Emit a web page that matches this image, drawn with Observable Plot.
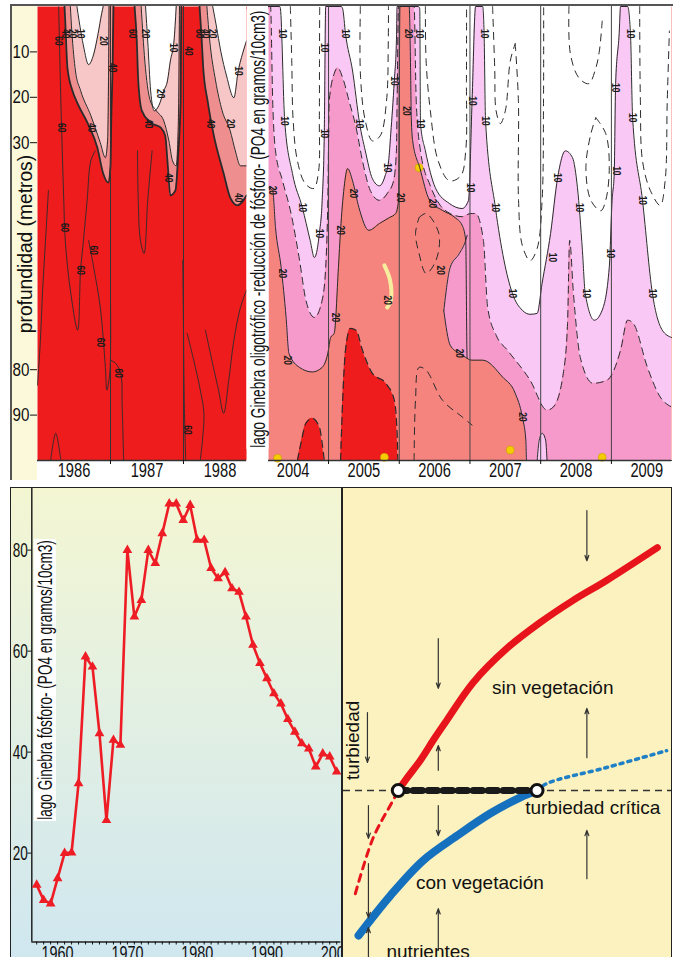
<!DOCTYPE html>
<html>
<head>
<meta charset="utf-8">
<script src="https://cdn.jsdelivr.net/npm/d3@7"></script>
<script src="https://cdn.jsdelivr.net/npm/@observablehq/plot@0.6"></script>
<style>
html,body{margin:0;padding:0;background:#fff;}
#root{position:relative;width:677px;height:957px;overflow:hidden;font-family:"Liberation Sans",Arial,sans-serif;}
.abs{position:absolute;}
.panel{position:absolute;overflow:hidden;}
.panel svg{display:block;overflow:visible;}
</style>
</head>
<body>
<div id="root">
  <div class="abs" style="left:11px;top:6px;width:26px;height:474px;background:#FCF8DA"></div>
  <div id="tl" class="panel" style="left:0;top:0;width:248px;height:482px"></div>
  <div id="tr" class="panel" style="left:262px;top:0;width:415px;height:482px"></div>
  <div class="abs" style="left:10px;top:4px;width:663px;height:2px;background:#555"></div>
  <div class="abs" style="left:10px;top:4px;width:1.5px;height:476px;background:#555"></div>
  <div id="bl" class="panel" style="left:10px;top:487px;width:330px;height:470px;border:1.5px solid #222;border-bottom:none;background:linear-gradient(#F4F6D2,#E3F0E2 45%,#D0E7F0)"></div>
  <div id="br" class="panel" style="left:342px;top:487px;width:328px;height:470px;border:1.5px solid #222;border-bottom:none;background:#FCF2BF"></div>
</div>
<script>
// ===================== DATA =====================
// --- Top panel, 1986-1988 (decimal year, depth m) ---
const depthTicks = [10, 20, 30, 80, 90];
const yearLabelsLeft = [1986.5, 1987.5, 1988.5];
const yearBoundsLeft = [1987, 1988];
const p1c40 = [[1986.37,0],[1986.38,3.2],[1986.41,13.5],[1986.48,18.6],[1986.55,21.4],[1986.69,25.8],[1986.82,31.1],[1986.90,36.8],[1986.97,38.8],[1987.00,35.1],[1987.01,25.2],[1987.03,12.0],[1987.04,0]];
const p1c20 = [[1986.45,0],[1986.47,5.4],[1986.52,14.2],[1986.59,18.5],[1986.73,24.0],[1986.86,30.0],[1986.93,33.3],[1986.96,29.6],[1986.97,20.8],[1986.98,0]];
const p1c10 = [[1986.54,0],[1986.57,3.2],[1986.63,8.7],[1986.70,12.8],[1986.77,10.5],[1986.83,6.0],[1986.88,1.5],[1986.90,0]];
const p2c40 = [[1987.33,0],[1987.36,7.6],[1987.38,16.4],[1987.43,23.0],[1987.55,25.6],[1987.69,26.7],[1987.75,28.5],[1987.78,34.0],[1987.82,41.6],[1987.89,40.5],[1987.93,31.8],[1987.96,20.8],[1987.97,0]];
const p2c20 = [[1987.42,0],[1987.47,12.0],[1987.54,20.5],[1987.63,23.0],[1987.73,25.2],[1987.80,29.6],[1987.85,34.0],[1987.90,35.1],[1987.93,25.2],[1987.945,0]];
const p2c10 = [[1987.48,0],[1987.51,7.6],[1987.55,18.6],[1987.60,23.0],[1987.66,21.9],[1987.73,18.6],[1987.78,16.4],[1987.82,12.0],[1987.87,7.6],[1987.90,0]];
const p3c40 = [[1988.22,0],[1988.25,7.6],[1988.27,13.5],[1988.33,20.8],[1988.41,28.0],[1988.55,36.8],[1988.64,42.1],[1988.74,43.8],[1988.82,42.7],[1988.863,41.6]];
const p3c20 = [[1988.32,0],[1988.36,7.6],[1988.44,16.4],[1988.53,23.0],[1988.64,27.4],[1988.71,31.8],[1988.78,35.1],[1988.863,35.1]];
const p3c10 = [[1988.40,0],[1988.45,4.3],[1988.51,9.8],[1988.59,15.3],[1988.69,20.1],[1988.75,14.2],[1988.82,9.8],[1988.863,7.6]];
const c60Left = [
  [[1986.29,0.1],[1986.32,20.8],[1986.36,42.7],[1986.38,51.5],[1986.45,62.5],[1986.55,71.3],[1986.59,58.1],[1986.63,51.5],[1986.68,42.7],[1986.73,34.0],[1986.79,31.8]],
  [[1986.70,51.5],[1986.77,57.5],[1986.86,66.3],[1986.93,79.5],[1986.95,84.5],[1986.99,80.8],[1987.0,64.7]],
  [[1987.0,77.9],[1987.07,78.6],[1987.14,80.8],[1987.16,88.2],[1987.18,99.9]],
  [[1986.0,83.4],[1986.04,73.5],[1986.07,62.5],[1986.11,51.5],[1986.15,40.5]],
  [[1986.18,100],[1986.25,94],[1986.32,100]],
  [[1987.57,31.8],[1987.51,42.7],[1987.46,54.4],[1987.41,51.5],[1987.38,42.7],[1987.37,31.8]],
  [[1988.05,72.0],[1988.14,77.9],[1988.23,84.5],[1988.28,89.6],[1988.26,95.5],[1988.23,99.9]],
  [[1987.99,55.9],[1988.0,71.3],[1988.01,86.7],[1988.03,99.9]],
  [[1988.30,71.3],[1988.41,79.5],[1988.48,84.5],[1988.55,89.6],[1988.62,82.3],[1988.69,73.5],[1988.78,66.3],[1988.863,62.5]]
];
const labelsLeft = [[1986.29,7.6,"60"],[1986.32,26.7,"60"],[1986.36,48.7,"60"],[1986.59,58.1,"60"],[1986.77,53.7,"60"],[1986.86,74.0,"60"],[1987.11,80.8,"60"],[1987.30,6.0,"60"],[1988.05,93.3,"60"],[1988.21,6.0,"60"],
  [1986.38,6.0,"40"],[1987.03,13.5,"40"],[1986.73,26.7,"40"],[1987.51,25.8,"40"],[1988.07,9.8,"40"],[1988.30,6.0,"40"],[1988.37,25.8,"40"],[1988.75,42.1,"40"],[1987.79,37.7,"40"],
  [1986.48,6.0,"20"],[1986.90,7.6,"20"],[1987.48,6.0,"20"],[1987.68,19.2,"20"],[1988.40,6.0,"20"],[1988.64,25.8,"20"],
  [1986.59,6.0,"10"],[1987.86,9.1,"10"],[1988.75,14.2,"10"]];

// --- Top panel, 2004-2009 ---
const yearLabelsRight = [2004.5, 2005.5, 2006.5, 2007.5, 2008.5, 2009.5];
const yearBoundsRight = [2005, 2006, 2007, 2008, 2009];
const d10R = [[2004.15,0],[2004.31,0],[2004.32,0.5],[2004.38,25.2],[2004.49,36.8],[2004.63,44.3],[2004.74,51.5],[2004.80,55.3],[2004.87,50.0],[2004.91,42.7],[2004.94,28.0],[2004.96,0],[2005.18,0],[2005.20,0.5],[2005.24,6.0],[2005.34,14.2],[2005.44,25.8],[2005.52,31.8],[2005.62,37.9],[2005.72,39.5],[2005.80,37.3],[2005.85,34.0],[2005.88,28.0],[2005.93,16.4],[2005.96,7.6],[2005.97,0],[2006.27,0],[2006.29,0.5],[2006.30,25.8],[2006.37,31.8],[2006.51,39.9],[2006.71,43.4],[2006.89,44.5],[2006.98,42.7],[2007.03,20.8],[2007.08,0],[2007.18,0],[2007.20,6.0],[2007.22,25.2],[2007.36,44.3],[2007.60,63.2],[2007.74,66.9],[2007.85,67.8],[2007.95,67.6],[2008.02,61.0],[2008.14,50.0],[2008.24,37.7],[2008.35,31.8],[2008.45,33.3],[2008.52,39.9],[2008.59,53.7],[2008.63,63.2],[2008.76,69.1],[2008.87,66.9],[2008.97,57.5],[2009.01,42.7],[2009.04,36.8],[2009.06,17.0],[2009.11,6.0],[2009.13,0],[2009.23,0],[2009.27,6.0],[2009.30,24.5],[2009.44,42.7],[2009.58,63.2],[2009.72,71.3],[2009.85,72.9]];
const d15R = [[2004.15,0],[2004.18,0],[2004.21,20.8],[2004.25,31.8],[2004.35,38.4],[2004.47,45.6],[2004.59,55.9],[2004.68,64.7],[2004.80,68.5],[2004.91,64.7],[2004.96,57.5],[2004.99,42.7],[2005.01,20.8],[2005.08,14.8],[2005.13,13.5],[2005.20,15.7],[2005.29,20.8],[2005.39,26.7],[2005.48,34.0],[2005.59,40.5],[2005.72,42.7],[2005.83,41.2],[2005.92,38.4],[2005.96,31.8],[2005.97,20.8],[2005.99,0],[2006.21,0],[2006.24,20.8],[2006.30,31.8],[2006.44,39.5],[2006.58,43.8],[2006.72,45.6],[2006.89,46.3],[2007.01,45.6],[2007.08,45.6],[2007.19,51.5],[2007.25,66.3],[2007.37,72.4],[2007.53,75.7],[2007.85,82.3],[2008.09,88.9],[2008.18,88.2],[2008.32,80.8],[2008.38,69.8],[2008.41,51.5],[2008.46,62.5],[2008.56,77.3],[2008.74,83.0],[2008.94,82.3],[2009.13,75.7],[2009.23,69.1],[2009.31,69.8],[2009.51,79.5],[2009.69,86.0],[2009.85,88.2]];
const d20R = [[2004.15,39.9],[2004.21,40.5],[2004.25,48.7],[2004.33,57.5],[2004.40,68.5],[2004.44,76.4],[2004.59,79.5],[2004.77,80.5],[2004.91,79.5],[2004.99,76.4],[2005.03,72.9],[2005.08,72.0],[2005.14,57.5],[2005.17,49.3],[2005.22,39.9],[2005.27,35.7],[2005.34,38.4],[2005.43,44.3],[2005.57,49.3],[2005.72,47.8],[2005.86,46.5],[2005.95,45.6],[2005.99,42.7],[2006.01,0],[2006.14,0],[2006.16,13.5],[2006.17,24.5],[2006.19,29.6],[2006.29,35.5],[2006.43,42.7],[2006.61,44.9],[2006.79,46.5],[2006.89,48.2],[2006.94,51.5],[2006.96,77.5],[2007.03,77.9],[2007.18,77.9],[2007.46,81.6],[2007.64,85.2],[2007.74,90.4],[2007.79,95.5],[2007.80,100],[2009.85,100]];
const pocketR = [[2006.63,67.0,67.0],[2006.72,57.5,74.6],[2006.85,54.4,76.4],[2006.94,51.5,77.3],[2006.96,50.4,77.5]];
const red2004 = [[2004.56,100],[2004.61,96.2],[2004.68,91.8],[2004.77,90.7],[2004.87,92.6],[2004.91,96.2],[2004.94,100]];
const red2005 = [[2005.17,100],[2005.20,86.7],[2005.24,75.7],[2005.31,70.9],[2005.39,71.3],[2005.48,75.7],[2005.62,80.8],[2005.81,83.0],[2005.93,86.7],[2005.97,94.0],[2005.98,100]];
const lav2008 = [[2007.95,100],[2007.98,95.5],[2008.02,94.0],[2008.07,95.5],[2008.09,100]];
const yellowSpots = [[2006.28,35.5],[2004.28,99.5],[2005.79,99.3],[2007.57,97.7],[2008.87,99.3]];
const crescent = [[2005.79,57.0],[2005.87,60.3],[2005.88,64.7],[2005.83,66.3]];
const c5Right = [
  [[2004.46,0],[2004.48,12.0],[2004.50,25.2],[2004.56,34.0],[2004.67,39.0],[2004.79,40.1],[2004.86,36.2],[2004.87,25.2],[2004.872,12.0],[2004.875,0]],
  [[2005.45,0],[2005.452,15.3],[2005.52,25.2],[2005.62,29.6],[2005.73,28.5],[2005.82,20.8],[2005.845,7.6],[2005.847,0]],
  [[2006.37,0],[2006.38,12.0],[2006.44,23.0],[2006.55,34.0],[2006.71,38.4],[2006.87,37.3],[2006.94,31.8],[2006.95,16.4],[2006.952,0]],
  [[2007.32,0],[2007.35,13.5],[2007.37,23.0],[2007.43,25.8],[2007.50,23.0],[2007.57,12.0],[2007.64,8.2]],
  [[2007.64,8.2],[2007.685,20.8],[2007.687,42.7],[2007.74,52.6],[2007.85,56.0],[2007.95,53.3],[2008.02,42.7],[2008.04,20.8],[2008.042,0]],
  [[2008.78,24.5],[2008.92,28.0],[2008.97,35.5],[2008.92,42.7],[2008.85,45.0],[2008.71,42.7],[2008.64,35.5],[2008.71,28.0],[2008.78,24.5]],
  [[2008.40,0],[2008.42,10.4],[2008.54,15.7],[2008.68,17.0],[2008.78,13.5],[2008.83,9.8],[2008.87,3.2]],
  [[2009.40,0],[2009.41,20.8],[2009.44,34.0],[2009.55,40.5],[2009.69,43.8],[2009.76,38.4],[2009.79,20.8],[2009.82,5.4]]
];
const c25Right = [
  [[2006.21,100],[2006.23,86.7],[2006.28,79.5],[2006.38,80.1],[2006.61,86.7],[2006.89,90.4],[2007.03,92.2]],
  [[2006.28,46.5],[2006.38,45.6],[2006.56,50.0],[2006.52,55.9],[2006.38,58.8],[2006.28,54.4],[2006.23,50.0],[2006.28,46.5]]
];
const labelsRight = [
  [2004.35,6.0,"10"],[2004.37,25.2,"10"],[2004.63,44.3,"10"],[2004.87,50.0,"10"],[2004.94,28.0,"10"],[2004.94,9.1,"10"],
  [2005.24,6.0,"10"],[2005.43,25.8,"10"],[2005.93,16.4,"10"],[2005.83,35.5,"10"],
  [2006.28,6.0,"10"],[2006.30,25.8,"10"],[2007.01,39.9,"10"],[2007.03,20.8,"10"],
  [2007.20,6.0,"10"],[2007.22,25.2,"10"],[2007.36,44.3,"10"],[2007.60,63.2,"10"],
  [2008.24,37.7,"10"],[2008.17,55.3,"10"],[2008.54,44.3,"10"],[2008.64,63.2,"10"],
  [2009.07,36.2,"10"],[2009.06,17.9,"10"],[2008.99,54.4,"10"],
  [2009.27,6.0,"10"],[2009.30,24.5,"10"],[2009.44,42.7,"10"],[2009.58,63.2,"10"],
  [2004.21,40.5,"20"],[2004.35,58.8,"20"],[2004.42,77.9,"20"],[2005.10,68.5,"20"],[2005.17,49.3,"20"],[2005.35,41.2,"20"],
  [2006.12,6.0,"20"],[2006.10,23.0,"20"],[2006.02,42.1,"20"],[2006.47,43.4,"20"],[2006.58,58.1,"20"],[2006.85,76.4,"20"],[2007.74,90.4,"20"],[2005.83,64.7,"20"]
];

// --- Bottom-left: Lake Geneva phosphorus ---
const phYears = [1957,1958,1959,1960,1961,1962,1963,1964,1965,1966,1967,1968,1969,1970,1971,1972,1973,1974,1975,1976,1977,1978,1979,1980,1981,1982,1983,1984,1985,1986,1987,1988,1989,1990,1991,1992,1993,1994,1995,1996,1997,1998,1999,2000];
const phValues = [13.7,10.7,10.0,15.0,20.0,20.1,33.8,58.9,56.9,43.7,26.5,42.4,41.4,80.0,66.8,70.1,80.0,77.4,83.3,89.2,89.2,85.9,88.9,82.0,82.0,76.4,74.4,75.6,72.4,71.7,66.8,61.2,57.6,54.6,51.6,49.6,46.5,44.0,41.7,40.7,37.1,39.7,39.1,36.1];
const phTicks = [20, 40, 60, 80];
const decadeLabels = [1960, 1970, 1980, 1990, 2000];

// --- Bottom-right: turbidity vs nutrients (relative units 0-100) ---
const redCurve = [[16.7,35.6],[19.5,38.4],[23.4,42.0],[27.7,46.7],[31.6,50.7],[39.5,58.6],[49.8,65.9],[59.9,71.4],[69.9,76.1],[80.2,80.4],[95.7,87.4]];
const redDashed = [[3.6,13.6],[9.1,25.6],[14.8,33.1],[16.7,35.6]];
const blueCurve = [[4.6,4.7],[14.3,13.2],[24.3,20.7],[34.7,26.0],[44.7,30.7],[53.8,34.1],[59.0,35.6]];
const blueDotted = [[59.0,35.6],[62.0,37.1],[80.2,40.5],[98.5,44.1]];
const criticalTurbidity = [35.6];
const bistable = [[16.7,35.6],[59.0,35.6]];
const arrowsBR = [[74.2,95.3,74.2,84.6],[28.9,68.0,28.9,57.4],[74.2,42.6,74.2,53.1],[28.9,39.9,28.9,45.2],[28.9,32.4,28.9,26.0],[74.2,16.8,74.2,27.1],[7.6,32.4,7.6,25.4],[7.6,20.0,7.6,8.5],[28.9,1.5,28.9,10.4],[7.6,0,7.6,6.4],[7.3,52.2,7.3,41.6]];
const textsBR = [["sin vegetación",63.8,57.4],["turbiedad crítica",76.0,31.8],["con vegetación",41.6,15.8],["nutrientes",25.8,1.1]];
const axisTitleBR = [["turbiedad",2.9,46.3]];

// ===================== STYLE / HELPERS =====================
const RED="#EE1C1C", ROSE="#EF8E8E", PALE="#F7C6C6", SALMON="#F5847F", PINK="#F59ACB", LAV="#F9C8F4", WHITE="#FFFFFF";
const FONT = '"Liberation Sans", Arial, sans-serif';
const X = d => d[0], Y = d => d[1];
const zero = () => 0, full = () => 100;
const fromTop = (data, fill) => Plot.areaY(data, {x: X, y1: zero, y2: Y, fill, curve: "monotone-x"});
const fromBottom = (data, fill) => Plot.areaY(data, {x: X, y1: Y, y2: full, fill, curve: "monotone-x"});
const cline = (data, opts={}) => Plot.line(data, {x: X, y: Y, stroke: "#2a2a2a", strokeWidth: 1, curve: "monotone-x", ...opts});
const paths = (list, opts={}) => list.map(p => Plot.line(p, {x: X, y: Y, stroke: "#2a2a2a", strokeWidth: 1, curve: "catmull-rom", ...opts}));
const clabels = (data) => Plot.text(data, {x: X, y: Y, text: d => d[2], rotate: 90, fontSize: 10, fontWeight: "bold", fill: "#1a1a1a"});

function squeeze(svg, selector, k) {
  svg.querySelectorAll(selector).forEach(t => {
    let tr = t.getAttribute("transform");
    if (!tr) {
      const x = t.getAttribute("x") || 0, y = t.getAttribute("y") || 0;
      t.removeAttribute("x"); t.removeAttribute("y");
      tr = `translate(${x},${y})`;
    }
    t.setAttribute("transform", tr + ` scale(${k},1)`);
  });
}
function vlabel(text, cx, cy, len, fs, bg) {
  const s = document.createElement("div");
  s.textContent = text;
  s.style.cssText = `position:absolute;left:0;top:0;white-space:nowrap;font:${fs}px ${FONT};line-height:1.05;padding:0 2px;color:#111;background:${bg};`;
  document.getElementById("root").appendChild(s);
  const w = s.offsetWidth, h = s.offsetHeight, k = len / w;
  s.style.transformOrigin = "0 0";
  s.style.transform = `translate(${cx}px,${cy}px) rotate(-90deg) scale(${k},1) translate(${-w/2}px,${-h/2}px)`;
}

// ===================== TOP LEFT (1986-1988) =====================
const tl = Plot.plot({
  width: 248, height: 482, marginLeft: 37, marginRight: 2, marginTop: 6, marginBottom: 22,
  style: {background: "transparent", fontFamily: FONT, color: "#111"},
  x: {domain: [1986, 1988.863], axis: null},
  y: {domain: [0, 100], reverse: true, axis: null},
  marks: [
    Plot.frame({fill: RED, stroke: "none"}),
    fromTop(p1c40, ROSE), fromTop(p1c20, PALE), fromTop(p1c10, WHITE),
    fromTop(p2c40, ROSE), fromTop(p2c20, PALE), fromTop(p2c10, WHITE),
    fromTop(p3c40, ROSE), fromTop(p3c20, PALE), fromTop(p3c10, WHITE),
    paths(c60Left, {strokeWidth: 0.9}),
    cline(p1c40, {strokeWidth: 1.8}), cline(p2c40, {strokeWidth: 1.8}), cline(p3c40, {strokeWidth: 1.8}),
    cline(p1c20), cline(p2c20), cline(p3c20),
    cline(p1c10), cline(p2c10), cline(p3c10),
    Plot.ruleX(yearBoundsLeft, {stroke: "#333", strokeWidth: 1}),
    Plot.ruleY([100], {stroke: "#333", strokeWidth: 1.3}),
    clabels(labelsLeft),
    Plot.axisY({ticks: depthTicks, anchor: "left", label: null, tickSize: 7, tickPadding: 1, fontSize: 19}),
    Plot.axisX({ticks: yearLabelsLeft, anchor: "bottom", label: null, tickFormat: d => String(Math.floor(d)), tickSize: 0, tickPadding: 2, fontSize: 21}),
    Plot.axisX({ticks: yearBoundsLeft, anchor: "bottom", label: null, tickFormat: () => "", tickSize: 4})
  ]
});
document.getElementById("tl").appendChild(tl);

// ===================== TOP RIGHT (2004-2009) =====================
const tr = Plot.plot({
  width: 415, height: 482, marginLeft: 6, marginRight: 6, marginTop: 6, marginBottom: 22,
  style: {background: "transparent", fontFamily: FONT, color: "#111"},
  x: {domain: [2004.151, 2009.85], axis: null},
  y: {domain: [0, 100], reverse: true, axis: null},
  marks: [
    Plot.frame({fill: SALMON, stroke: "none"}),
    fromTop(d20R, PINK),
    Plot.areaY(pocketR, {x: X, y1: d => d[1], y2: d => d[2], fill: PINK, curve: "monotone-x"}),
    fromTop(d15R, LAV),
    fromTop(d10R, WHITE),
    fromBottom(red2004, RED), fromBottom(red2005, RED), fromBottom(lav2008, LAV),
    Plot.line(crescent, {x: X, y: Y, stroke: "#F6EE9E", strokeWidth: 4, curve: "catmull-rom"}),
    Plot.dot(yellowSpots, {x: X, y: Y, r: 4, fill: "#F6CC00", stroke: "#B89400", strokeWidth: 0.5}),
    paths(c5Right, {strokeDasharray: "7,6", strokeWidth: 1}),
    paths(c25Right, {strokeDasharray: "7,6", strokeWidth: 1}),
    cline(d10R), cline(d15R, {strokeDasharray: "7,5"}), cline(d20R),
    Plot.line(pocketR, {x: X, y: d => d[1], stroke: "#2a2a2a", strokeWidth: 1, curve: "monotone-x"}),
    Plot.line(pocketR, {x: X, y: d => d[2], stroke: "#2a2a2a", strokeWidth: 1, curve: "monotone-x"}),
    cline(red2004, {strokeDasharray: "7,5", strokeWidth: 1.2}), cline(red2005, {strokeDasharray: "7,5", strokeWidth: 1.2}),
    cline(lav2008),
    Plot.ruleX(yearBoundsRight, {stroke: "#444", strokeWidth: 1}),
    Plot.ruleY([100], {stroke: "#333", strokeWidth: 1.3}),
    clabels(labelsRight),
    Plot.axisX({ticks: yearLabelsRight, anchor: "bottom", label: null, tickFormat: d => String(Math.floor(d)), tickSize: 0, tickPadding: 2, fontSize: 21}),
    Plot.axisX({ticks: yearBoundsRight, anchor: "bottom", label: null, tickFormat: () => "", tickSize: 4})
  ]
});
document.getElementById("tr").appendChild(tr);

// ===================== BOTTOM LEFT (phosphorus 1957-2000) =====================
const ph = phYears.map((year, i) => ({year, value: phValues[i]}));
const bl = Plot.plot({
  width: 330, height: 469, marginLeft: 20.3, marginRight: 0.6, marginTop: 0, marginBottom: 15.5,
  style: {background: "transparent", fontFamily: FONT, color: "#111"},
  x: {domain: [1956.3, 2000.6], axis: null},
  y: {domain: [2.4, 92.2], axis: null},
  marks: [
    Plot.ruleX([1956.3], {stroke: "#222", strokeWidth: 1.5}),
    Plot.ruleY([2.4], {stroke: "#222", strokeWidth: 1.5}),
    Plot.line(ph, {x: "year", y: "value", stroke: "#EE1C24", strokeWidth: 2.6}),
    Plot.dot(ph, {x: "year", y: "value", symbol: "triangle", r: 3.6, fill: "#EE1C24"}),
    Plot.axisY({ticks: phTicks, anchor: "left", label: null, tickSize: 4, tickPadding: 0, fontSize: 20}),
    Plot.axisX({ticks: phYears, anchor: "bottom", label: null, tickSize: 3, tickPadding: 1, fontSize: 20,
      tickFormat: d => decadeLabels.includes(d) ? String(d) : ""})
  ]
});
document.getElementById("bl").appendChild(bl);

// ===================== BOTTOM RIGHT (turbidity diagram) =====================
const br = Plot.plot({
  width: 328, height: 469, margin: 0,
  style: {background: "transparent", fontFamily: FONT, color: "#111"},
  x: {domain: [0, 100], axis: null},
  y: {domain: [0, 100], axis: null},
  marks: [
    Plot.ruleY(criticalTurbidity, {stroke: "#333", strokeWidth: 1.4, strokeDasharray: "7,5"}),
    Plot.line(redDashed, {x: X, y: Y, stroke: "#E8141B", strokeWidth: 3, strokeDasharray: "7,6", curve: "catmull-rom"}),
    Plot.line(redCurve, {x: X, y: Y, stroke: "#E8141B", strokeWidth: 7, curve: "catmull-rom"}),
    Plot.line(blueDotted, {x: X, y: Y, stroke: "#1F80C6", strokeWidth: 3.5, strokeDasharray: "3,5", curve: "catmull-rom"}),
    Plot.line(blueCurve, {x: X, y: Y, stroke: "#1570BE", strokeWidth: 8, curve: "catmull-rom"}),
    Plot.line(bistable, {x: X, y: Y, stroke: "#1a1a1a", strokeWidth: 7, strokeDasharray: "9,6"}),
    Plot.dot(bistable, {x: X, y: Y, r: 6, fill: "white", stroke: "#111", strokeWidth: 3}),
    Plot.arrow(arrowsBR, {x1: d => d[0], y1: d => d[1], x2: d => d[2], y2: d => d[3], stroke: "#333", strokeWidth: 1.2, headLength: 7, headAngle: 40}),
    Plot.text(textsBR, {x: d => d[1], y: d => d[2], text: d => d[0], fontSize: 19, fill: "#111"}),
    Plot.text(axisTitleBR, {x: d => d[1], y: d => d[2], text: d => d[0], fontSize: 19, rotate: -90, fill: "#111"})
  ]
});
document.getElementById("br").appendChild(br);

// condensed lettering as in the original figure
squeeze(tl, 'g[aria-label="x-axis tick label"] text', 0.7);
squeeze(tr, 'g[aria-label="x-axis tick label"] text', 0.7);
squeeze(tl, 'g[aria-label="y-axis tick label"] text', 0.8);
squeeze(bl, 'g[aria-label="y-axis tick label"] text', 0.68);
squeeze(bl, 'g[aria-label="x-axis tick label"] text', 0.72);
squeeze(tl, 'g[aria-label="text"] text', 0.85);
squeeze(tr, 'g[aria-label="text"] text', 0.85);

// rotated titles
vlabel("profundidad (metros)", 25, 244, 182, 21, "#FCF8DA");
vlabel("lago Ginebra oligotrófico -reducción de fósforo- (PO4 en gramos/10cm3)", 257.5, 229, 440, 21, "#FFFFFF");
vlabel("lago Ginebra fósforo- (PO4 en gramos/10cm3)", 45, 680, 282, 21, "#FFFFFF");
</script>
</body>
</html>
